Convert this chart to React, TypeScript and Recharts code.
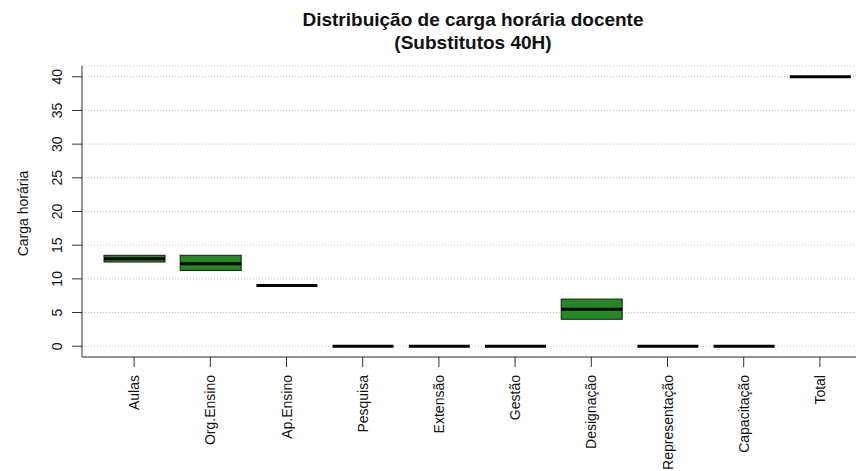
import React from 'react';
import { ComposedChart, Bar, XAxis, YAxis, CartesianGrid } from 'recharts';

const categories = ['Aulas', 'Org.Ensino', 'Ap.Ensino', 'Pesquisa', 'Extensão', 'Gestão', 'Designação', 'Representação', 'Capacitação', 'Total'];
const lowerQuartile = [12.5, 11.25, 9, 0, 0, 0, 4, 0, 0, 40];
const medianValues = [13, 12.25, 9, 0, 0, 0, 5.5, 0, 0, 40];
const upperQuartile = [13.5, 13.5, 9, 0, 0, 0, 7, 0, 0, 40];
const yTicks = [0, 5, 10, 15, 20, 25, 30, 35, 40];

const data = categories.map((name, i) => ({
  name,
  box: [lowerQuartile[i], upperQuartile[i]],
  q1: lowerQuartile[i],
  med: medianValues[i],
  q3: upperQuartile[i],
}));

const FONT = '"Liberation Sans", Arial, sans-serif';

const BoxShape = (props: any) => {
  const { x, y, width, height, payload } = props;
  const top = Math.min(y, y + height);
  const h = Math.abs(height);
  const span = payload.q3 - payload.q1;
  const my = span > 0 ? top + h * (payload.q3 - payload.med) / span : top;
  return (
    <g>
      <rect x={x} y={top} width={width} height={h} fill="#228B22" stroke="#1a1a1a" strokeWidth={1} />
      <line x1={x} x2={x + width} y1={my} y2={my} stroke="#000" strokeWidth={3} />
    </g>
  );
};

const XTick = (props: any) => {
  const { x, y, payload } = props;
  const ty = y + 8;
  return (
    <text x={x} y={ty} transform={`rotate(-90, ${x}, ${ty})`} textAnchor="end" dominantBaseline="central"
      fontSize={14} fontFamily={FONT} fill="#111">
      {payload.value}
    </text>
  );
};

const YTick = (props: any) => {
  const { y, payload } = props;
  const tx = 57;
  return (
    <text x={tx} y={y} transform={`rotate(-90, ${tx}, ${y})`} textAnchor="middle" dominantBaseline="central"
      fontSize={14} fontFamily={FONT} fill="#111">
      {payload.value}
    </text>
  );
};

const YLabel = (props: any) => {
  const vb = props.viewBox;
  const cx = 23;
  const cy = vb.y + vb.height / 2 + 2;
  return (
    <text x={cx} y={cy} transform={`rotate(-90, ${cx}, ${cy})`} textAnchor="middle" dominantBaseline="central"
      fontSize={14} fontFamily={FONT} fill="#111">
      Carga horária
    </text>
  );
};

export default function App() {
  return (
    <div style={{ position: 'absolute', left: 0, top: 0, width: 856, height: 471, overflow: 'hidden', background: '#fff' }}>
      <div style={{ position: 'absolute', left: 0, top: 8, width: 946, textAlign: 'center', fontFamily: FONT, fontWeight: 'bold', fontSize: 19, lineHeight: '23px', color: '#111' }}>
        Distribuição de carga horária docente<br />(Substitutos 40H)
      </div>
      <ComposedChart width={880} height={471} data={data} margin={{ top: 66, right: 8, bottom: 0, left: 0 }}>
        <CartesianGrid vertical={false} stroke="#bdbdbd" strokeDasharray="1 2" />
        <XAxis dataKey="name" padding={{ left: 14, right: 14 }} height={114} interval={0}
          tickSize={10} tickMargin={0} tick={<XTick />} axisLine={{ stroke: '#333' }} tickLine={{ stroke: '#333' }} />
        <XAxis xAxisId="top" dataKey="name" orientation="top" height={0} tick={false} tickLine={false} axisLine={{ stroke: '#333' }} />
        <YAxis type="number" domain={[-1.6, 41.6]} ticks={yTicks} width={82} interval={0}
          tickSize={10} tickMargin={0} tick={<YTick />} axisLine={{ stroke: '#333' }} tickLine={{ stroke: '#333' }}
          label={<YLabel />} allowDataOverflow />
        <Bar dataKey="box" barSize={61} shape={<BoxShape />} isAnimationActive={false} />
      </ComposedChart>
    </div>
  );
}
